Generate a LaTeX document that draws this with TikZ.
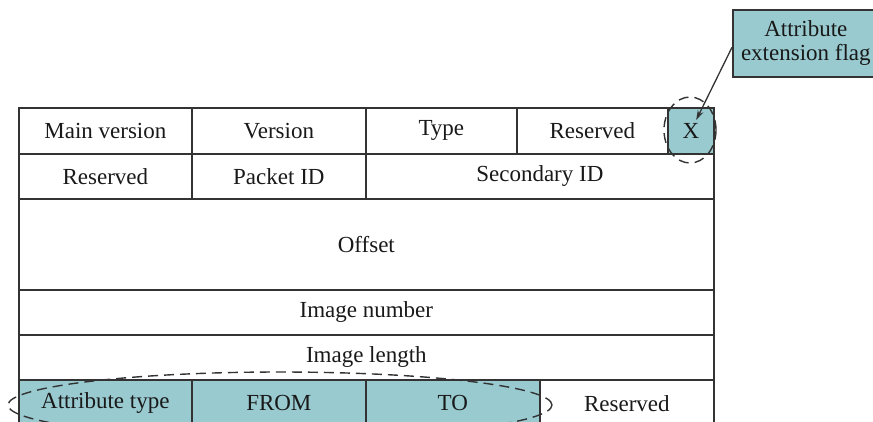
\documentclass[tikz,border=0pt]{standalone}
\usepackage{fontspec}
\setmainfont{Liberation Serif}
\usetikzlibrary{arrows.meta}
\definecolor{tealfill}{HTML}{98CAD0}
\definecolor{linec}{HTML}{333333}
\begin{document}
\begin{tikzpicture}[x=1pt,y=-1pt,
  cell/.style={draw=linec, line width=1.7pt, anchor=north west, inner sep=0pt,
    minimum height=#1, font=\fontsize{23}{27}\selectfont, text=black!90},
  cell/.default=46pt,
  hl/.style={fill=tealfill},
  dsh/.style={draw=linec, line width=1.4pt, dash pattern=on 10pt off 6pt}]
\useasboundingbox (0,0) rectangle (873,421);
\clip (0,0) rectangle (873,421);
% row 1
\node[cell, minimum width=173pt] (mv) at (18,107) {Main version};
\node[cell, minimum width=174pt] (ver) at (191,107) {Version};
\node[cell, minimum width=151pt] (type) at (365,107) {\raisebox{3pt}{Type}};
\node[cell, minimum width=151pt] (res1) at (516,107) {Reserved};
\node[cell, hl, minimum width=46pt] (x) at (667,107) {X};
% row 2
\node[cell=45pt, minimum width=173pt] (res2) at (18,153) {Reserved};
\node[cell=45pt, minimum width=174pt] (pid) at (191,153) {Packet ID};
\node[cell=45pt, minimum width=348pt] (sid) at (365,153) {\raisebox{5pt}{Secondary ID}};
% rows 3-5
\node[cell=91pt, minimum width=695pt] (off) at (18,198) {Offset};
\node[cell=45pt, minimum width=695pt] (inum) at (18,289) {\raisebox{3pt}{Image number}};
\node[cell=45pt, minimum width=695pt] (ilen) at (18,334) {Image length};
% row 6
\node[cell=47pt, hl, minimum width=173pt] (atype) at (18,379) {\raisebox{4pt}{Attribute type}};
\node[cell=47pt, hl, minimum width=174pt] (from) at (191,379) {\raisebox{-4pt}{FROM}};
\node[cell=47pt, hl, minimum width=174pt] (to) at (365,379) {\raisebox{-4pt}{TO}};
\node[cell=47pt, minimum width=174pt] (res3) at (539,379) {\raisebox{-1pt}{Reserved}};
% callout
\node[draw=linec, line width=1.7pt, fill=tealfill, anchor=north west,
  minimum width=146pt, minimum height=67pt, inner sep=0pt, align=center,
  font=\fontsize{23}{24}\selectfont, text=black!90] (attr) at (732,9)
  {Attribute\\extension flag};
% dashed ellipses
\draw[dsh] (690,130) ellipse [x radius=26pt, y radius=33pt];
\draw[dsh] (280,405) ellipse [x radius=272pt, y radius=33pt];
% arrow
\draw[draw=linec, line width=1.3pt, -{Stealth[length=10pt,width=6pt]}, shorten >=12pt]
  ([yshift=-4pt]attr.west) -- (x.center);
\end{tikzpicture}
\end{document}
